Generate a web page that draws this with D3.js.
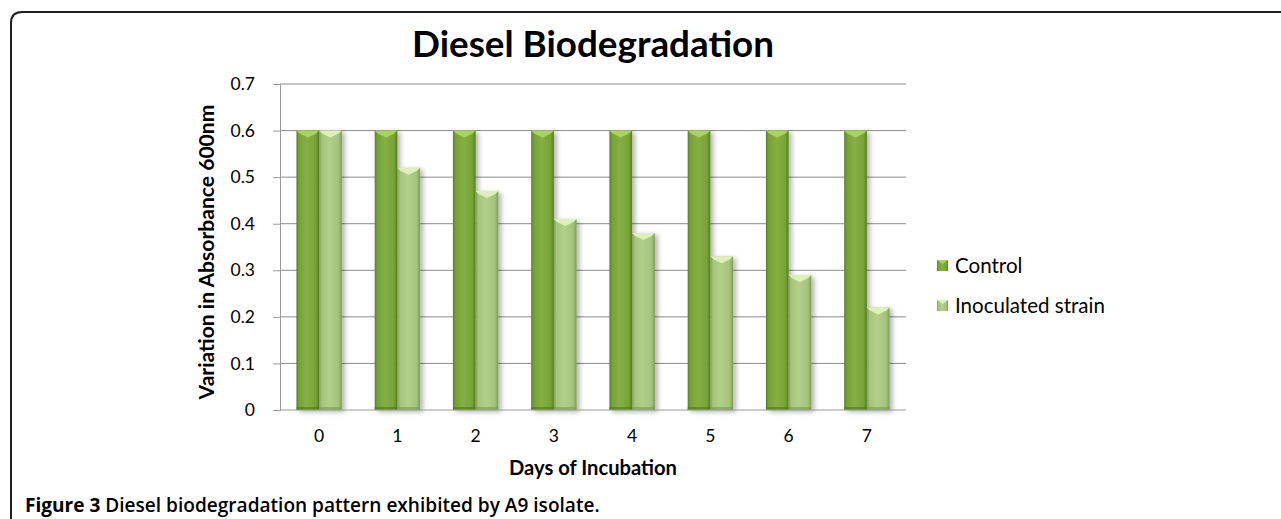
<!DOCTYPE html>
<html>
<head>
<meta charset="utf-8">
<script src="https://cdn.jsdelivr.net/npm/d3@7"></script>
<style>
  body { margin: 0; background: #fff; }
  svg { display: block; }
</style>
</head>
<body>
<svg width="1281" height="519"></svg>
<script>
var days = ["0", "1", "2", "3", "4", "5", "6", "7"];
var seriesNames = ["Control", "Inoculated strain"];
var control = [0.6, 0.6, 0.6, 0.6, 0.6, 0.6, 0.6, 0.6];
var inoculated = [0.6, 0.52, 0.47, 0.41, 0.38, 0.33, 0.29, 0.22];
var yTicks = [0, 0.1, 0.2, 0.3, 0.4, 0.5, 0.6, 0.7];

var svg = d3.select("svg");
var font = "Lato, 'Open Sans', sans-serif";

// scale a text's font size so it spans about the given width
function fit(sel, width) {
  var w = sel.node().getComputedTextLength();
  var fs = parseFloat(sel.attr("font-size"));
  sel.attr("font-size", (fs * width / w).toFixed(2));
  return sel;
}

// frame round the figure (top and left visible)
svg.append("path")
  .attr("d", "M11,519 L11,23 Q11,12 22,12 L1281,12")
  .attr("fill", "none")
  .attr("stroke", "#231f20")
  .attr("stroke-width", 2);

var x = d3.scaleBand().domain(days).range([280, 906]).paddingInner(0.42).paddingOuter(0.21);
var xs = d3.scaleBand().domain(seriesNames).range([0, x.bandwidth()]);
var y = d3.scaleLinear().domain([0, 0.7]).range([410, 84]);

var defs = svg.append("defs");
function grad(id, stops) {
  var g = defs.append("linearGradient").attr("id", id).attr("x1", "0").attr("x2", "1").attr("y1", "0").attr("y2", "0");
  stops.forEach(function(s) {
    g.append("stop").attr("offset", s[0]).attr("stop-color", s[1]);
  });
}
grad("gCtrl", [["0", "#5a8224"], ["0.12", "#76a138"], ["0.45", "#84b044"], ["0.85", "#78a338"], ["1", "#567e20"]]);
grad("gInoc", [["0", "#80a05a"], ["0.12", "#a5c47c"], ["0.45", "#b3d08b"], ["0.85", "#a4c37c"], ["1", "#7d9b56"]]);
var sh = defs.append("filter").attr("id", "shadow").attr("x", "-30%").attr("y", "-10%").attr("width", "170%").attr("height", "130%");
sh.append("feGaussianBlur").attr("in", "SourceAlpha").attr("stdDeviation", 2.5);
sh.append("feOffset").attr("dx", 3).attr("dy", 2).attr("result", "b");
sh.append("feComponentTransfer").append("feFuncA").attr("type", "linear").attr("slope", 0.3);
var m = sh.append("feMerge");
m.append("feMergeNode");
m.append("feMergeNode").attr("in", "SourceGraphic");

// grid
svg.append("g").selectAll("line").data(yTicks.slice(1)).enter().append("line")
  .attr("x1", 280).attr("x2", 906)
  .attr("y1", function(d) { return y(d); }).attr("y2", function(d) { return y(d); })
  .attr("stroke", "#8c8c8c").attr("stroke-width", 1);

// y axis
var yAxis = svg.append("g").attr("transform", "translate(280,0)")
  .call(d3.axisLeft(y).tickValues(yTicks).tickSize(7).tickPadding(18).tickFormat(function(d) { return d === 0 ? "0" : d3.format(".1f")(d); }));
yAxis.select(".domain").attr("stroke", "#9a9a9a");
yAxis.selectAll(".tick line").attr("stroke", "#9a9a9a");
yAxis.selectAll("text").attr("font-family", font).attr("font-size", 17.5).attr("fill", "#000");

// bars
var series = [
  { name: seriesNames[0], values: control, fill: "url(#gCtrl)", top: "#a8d35c", bottom: "#4f741d" },
  { name: seriesNames[1], values: inoculated, fill: "url(#gInoc)", top: "#ddf1b6", bottom: "#7a9856" }
];
var bars = svg.append("g");
series.forEach(function(s) {
  var g = bars.append("g");
  days.forEach(function(d, i) {
    var x0 = x(d) + xs(s.name), w = xs.bandwidth(), yt = y(s.values[i]), yb = y(0);
    var bg = g.append("g").attr("filter", "url(#shadow)");
    bg.append("rect").attr("x", x0).attr("y", yt).attr("width", w).attr("height", yb - yt).attr("fill", s.fill);
    bg.append("path")
      .attr("d", "M" + x0 + "," + yt + "L" + (x0 + w) + "," + yt + "L" + (x0 + w - 3) + "," + (yt + 3) +
        "L" + (x0 + w / 2) + "," + (yt + 7) + "L" + (x0 + 3) + "," + (yt + 3) + "Z")
      .attr("fill", s.top);
    bg.append("rect").attr("x", x0).attr("y", yb - 3).attr("width", w).attr("height", 3).attr("fill", s.bottom).attr("opacity", 0.6);
  });
});

// x axis baseline and labels
svg.append("line").attr("x1", 280).attr("x2", 906).attr("y1", 410).attr("y2", 410).attr("stroke", "#9a9a9a");
svg.append("g").selectAll("text").data(days).enter().append("text")
  .attr("x", function(d) { return x(d) + x.bandwidth() / 2; })
  .attr("y", 442)
  .attr("text-anchor", "middle")
  .attr("font-family", font).attr("font-size", 17.5)
  .text(function(d) { return d; });

// titles
fit(svg.append("text").attr("x", 593).attr("y", 57).attr("text-anchor", "middle")
  .attr("font-family", font).attr("font-weight", "bold").attr("font-size", 34)
  .text("Diesel Biodegradation"), 362);
fit(svg.append("text").attr("x", 593).attr("y", 475).attr("text-anchor", "middle")
  .attr("font-family", font).attr("font-weight", "bold").attr("font-size", 16)
  .text("Days of Incubation"), 168);
fit(svg.append("text").attr("transform", "translate(214,252) rotate(-90)").attr("text-anchor", "middle")
  .attr("font-family", font).attr("font-weight", "bold").attr("font-size", 17)
  .text("Variation in Absorbance 600nm"), 295);

// legend
var leg = svg.append("g").attr("transform", "translate(937,260)");
series.forEach(function(s, i) {
  var row = leg.append("g").attr("transform", "translate(0," + (i * 40) + ")");
  row.append("rect").attr("width", 11).attr("height", 11).attr("fill", s.fill);
  row.append("path").attr("d", "M0,0L11,0L5.5,4Z").attr("fill", s.top);
  var t = row.append("text").attr("x", 18).attr("y", 13).attr("font-family", font).attr("font-size", 18).text(s.name);
  if (i === 1) fit(t, 150);
});
leg.selectAll("text").attr("font-size", leg.selectAll("text").filter(function(d, i) { return i === 1; }).attr("font-size"));

// caption
var cap = svg.append("text").attr("x", 25).attr("y", 512).attr("font-family", "'Open Sans', sans-serif").attr("font-size", 16);
cap.append("tspan").attr("font-weight", "bold").text("Figure 3 ");
cap.append("tspan").attr("font-weight", 600).text("Diesel biodegradation pattern exhibited by A9 isolate.");
fit(cap, 575);
</script>
</body>
</html>
